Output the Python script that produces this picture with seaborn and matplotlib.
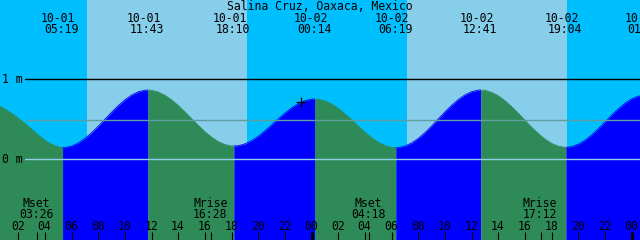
import matplotlib
matplotlib.use("Agg")
import matplotlib.pyplot as plt
import seaborn as sns
import pandas as pd
from matplotlib.transforms import blended_transform_factory, ScaledTranslation

# ---------------- data ----------------
title = "Salina Cruz, Oaxaca, Mexico"

# tide curve, level in metres every half hour after 10-01 00:00
curve_hours = [i / 2 for i in range(99)]
curve_level = [0.700, 0.672, 0.628, 0.574, 0.513, 0.447, 0.375, 0.302, 0.237, 0.187,
               0.156, 0.146, 0.165, 0.204, 0.261, 0.333, 0.415, 0.502, 0.590, 0.673,
               0.745, 0.804, 0.844, 0.864, 0.863, 0.841, 0.800, 0.742, 0.671, 0.591,
               0.506, 0.422, 0.344, 0.275, 0.221, 0.184, 0.167, 0.170, 0.193, 0.233,
               0.289, 0.356, 0.430, 0.506, 0.578, 0.643, 0.696, 0.733, 0.752, 0.751,
               0.730, 0.691, 0.636, 0.568, 0.493, 0.414, 0.338, 0.270, 0.213, 0.172,
               0.149, 0.146, 0.165, 0.205, 0.262, 0.335, 0.417, 0.506, 0.594, 0.676,
               0.748, 0.806, 0.846, 0.865, 0.862, 0.837, 0.793, 0.732, 0.657, 0.574,
               0.486, 0.400, 0.320, 0.252, 0.198, 0.164, 0.150, 0.158, 0.188, 0.238,
               0.304, 0.382, 0.466, 0.552, 0.631, 0.701, 0.755, 0.790, 0.803]

# high / low tide events
event_date = ["09-30", "10-01", "10-01", "10-01", "10-02", "10-02", "10-02", "10-02", "10-03"]
event_time = ["23:00", "05:19", "11:43", "18:10", "00:14", "06:19", "12:41", "19:04", "01:03"]
event_level = [0.740, 0.145, 0.866, 0.166, 0.754, 0.145, 0.866, 0.150, 0.803]

# sun (day = lighter background)
sunrise = ["10-01 07:09", "10-02 07:09"]
sunset = ["10-01 19:09", "10-02 19:09"]

# moon events
moon_kind = ["Mset", "Mrise", "Mset", "Mrise"]
moon_stamp = ["10-01 03:26", "10-01 16:28", "10-02 04:18", "10-02 17:12"]

# current time marker
now_stamp = "10-01 23:12"
now_level = 0.716

level_ticks = [1, 0]
level_tick_labels = ["1 m", "0 m"]
msl_level = 0.49

# ---------------- helpers ----------------
DAY = {"09-30": -1, "10-01": 0, "10-02": 1, "10-03": 2}


def hours(stamp):
    d, hm = stamp.split()
    h, m = hm.split(":")
    return 24 * DAY[d] + int(h) + int(m) / 60.0


W, H = 640, 240
PXH = 40.0 / 3.0           # pixels per hour
T_LEFT = 24 - 311.7 / PXH  # hour at left edge
Y0PX, PXM = 159.3, 80.0    # pixel row of 0 m, pixels per metre
FS = 8.3

NIGHT = "#00BFFF"
DAYC = "#87CEEB"
RISE = "#0000FF"
FALL = "#2E8B57"

sns.set_theme(style="white")
plt.rcParams["font.family"] = ["DejaVu Sans Mono", "DejaVu Sans"]

fig = plt.figure(figsize=(W / 100, H / 100), dpi=100)
ax = fig.add_axes([0, 0, 1, 1])
ax.set_xlim(T_LEFT, T_LEFT + 48)
ax.set_ylim((Y0PX - H) / PXM, Y0PX / PXM)
ax.axis("off")
fig.patch.set_facecolor(NIGHT)
ax.set_facecolor(NIGHT)

blend = blended_transform_factory(ax.transData, ax.transAxes)


def tr(dxpx=0.0):
    return blend + ScaledTranslation(dxpx / 100.0, 0, fig.dpi_scale_trans)


def yfrac(ypx):
    return 1 - ypx / H


# background: night everywhere, day spans lighter
ax.axvspan(T_LEFT - 2, T_LEFT + 50, color=NIGHT, lw=0, zorder=0)
for sr, ss in zip(sunrise, sunset):
    ax.axvspan(hours(sr), hours(ss), color=DAYC, lw=0, zorder=0.5)

# tide curve: merge readings with events
ev_hours = [hours(d + " " + t) for d, t in zip(event_date, event_time)]
df = pd.DataFrame({"t": list(curve_hours) + ev_hours,
                   "lev": list(curve_level) + event_level})
df = df.sort_values("t").drop_duplicates("t").reset_index(drop=True)
bottom = (Y0PX - H) / PXM - 0.1
for i in range(len(ev_hours) - 1):
    a, b = ev_hours[i], ev_hours[i + 1]
    seg = df[(df.t >= a) & (df.t <= b)]
    col = RISE if event_level[i + 1] > event_level[i] else FALL
    ax.fill_between(seg.t, bottom, seg.lev, color=col, lw=0, zorder=1)
    sns.lineplot(x=seg.t.values, y=seg.lev.values, color=col, lw=0.6,
                 ax=ax, zorder=1.1, sort=False)

# level lines
xstart = 25 / W
ax.axhline(level_ticks[0], xmin=xstart, xmax=1, color="black", lw=1.0, zorder=2)
ax.axhline(msl_level, xmin=xstart, xmax=1, color="#5F9EA0", lw=1.0, zorder=2)
ax.axhline(level_ticks[1], xmin=xstart, xmax=1, color="#8FCFEA", lw=1.0, zorder=2)
for lv, lab in zip(level_ticks, level_tick_labels):
    ypx = Y0PX - lv * PXM
    ax.text(0.003, yfrac(ypx + 3.7), lab, transform=ax.transAxes,
            ha="left", va="baseline", fontsize=FS, color="black", zorder=3)

# title
ax.text(0.5, yfrac(10), title, transform=ax.transAxes, ha="center",
        va="baseline", fontsize=FS, color="black", zorder=3)

# tide event labels (only events inside the window)
for d, t, th in zip(event_date, event_time, ev_hours):
    if th < T_LEFT:
        continue
    ax.text(th, yfrac(22), d, transform=tr(-4.3), ha="center", va="baseline",
            fontsize=FS, color="black", zorder=3, clip_on=False)
    ax.text(th, yfrac(33), t, transform=tr(-0.8), ha="center", va="baseline",
            fontsize=FS, color="black", zorder=3, clip_on=False)

# moon labels and ticks
for k, s in zip(moon_kind, moon_stamp):
    th = hours(s)
    ax.text(th, yfrac(206.7), k, transform=tr(-1), ha="center", va="baseline",
            fontsize=FS, color="black", zorder=3)
    ax.text(th, yfrac(218), s.split()[1], transform=tr(-1), ha="center",
            va="baseline", fontsize=FS, color="black", zorder=3)
    ax.plot([th, th], [0, 8 / H], transform=blend, color="black", lw=0.8,
            zorder=3, solid_capstyle="butt")

# hour ticks and labels
for hh in range(2, 49, 2):
    lw = 2.2 if hh % 24 == 0 else 0.8
    ax.plot([hh, hh], [0, 8 / H], transform=blend, color="black", lw=lw,
            zorder=3, solid_capstyle="butt")
    ax.text(hh, yfrac(230), "%02d" % (hh % 24), transform=tr(-0.5),
            ha="center", va="baseline", fontsize=FS, color="black", zorder=3)

# current time marker
ax.plot([hours(now_stamp)], [now_level], marker="+", color="black",
        markersize=7, mew=0.9, zorder=4)

fig.savefig("out.png", dpi=100, facecolor=fig.get_facecolor())
